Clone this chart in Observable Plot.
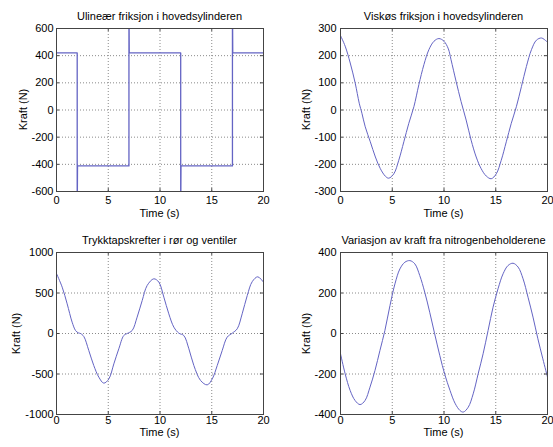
<!DOCTYPE html>
<html>
<head>
<meta charset="utf-8">
<script src="https://cdn.jsdelivr.net/npm/d3@7"></script>
<script src="https://cdn.jsdelivr.net/npm/@observablehq/plot@0.6"></script>
<style>
  html, body { margin: 0; padding: 0; background: #fff; }
  #wrap { position: relative; width: 553px; height: 447px; background: #fff; overflow: hidden;
          font-family: "Liberation Sans", Arial, sans-serif; font-size: 11px; color: #000; }
  .panel { position: absolute; }
  .txt { position: absolute; line-height: 11px; font-size: 11px; white-space: nowrap; text-align: center; }
  .rot { transform: rotate(-90deg); }
</style>
</head>
<body>
<div id="wrap"></div>
<script>
// ---- Data ----
const titles = [
  "Ulineær friksjon i hovedsylinderen",
  "Viskøs friksjon i hovedsylinderen",
  "Trykktapskrefter i rør og ventiler",
  "Variasjon av kraft fra nitrogenbeholderene"
];
const xLabel = "Time (s)";
const yLabel = "Kraft (N)";
const xTicks = [0, 5, 10, 15, 20];

// Panel 1: nonlinear friction (square wave)
const t1 = [0, 2, 2, 2.03, 7, 7, 7.03, 12, 12, 12.03, 17, 17, 17.03, 20];
const f1 = [420, 420, -800, -412, -412, 800, 420, 420, -800, -412, -412, 800, 420, 420];
const yTicks1 = [-600, -400, -200, 0, 200, 400, 600];

// Panel 2: viscous friction
const t2 = [0, 0.45, 0.94, 1.42, 1.81, 2.07, 2.39, 2.88, 3.37, 3.85, 4.34, 4.66, 5.15, 5.63, 6.12, 6.6,
            7.09, 7.57, 8.06, 8.54, 9.03, 9.51, 10.0, 10.42, 10.68, 11.17, 11.65, 12.14, 12.62, 13.11,
            13.59, 14.08, 14.56, 15.05, 15.53, 16.02, 16.5, 16.99, 17.48, 17.96, 18.45, 18.93, 19.42, 19.9, 20];
const f2 = [274, 235, 173, 99, 25, -12, -62, -117, -173, -216, -244, -251, -235, -185, -117, -49,
            12, 93, 167, 222, 253, 263, 253, 225, 185, 105, 31, -37, -111, -173,
            -216, -243, -253, -235, -185, -117, -49, 12, 86, 160, 222, 257, 265, 253, 250];
const yTicks2 = [-300, -200, -100, 0, 100, 200, 300];

// Panel 3: pressure-loss forces
const t3 = [0, 0.55, 1.03, 1.51, 1.84, 2.1, 2.32, 2.64, 3.12, 3.6, 4.09, 4.57, 5.06, 5.54, 6.02, 6.5,
            6.83, 7.31, 7.79, 8.28, 8.76, 9.4, 9.89, 10.37, 10.85, 11.34, 11.82, 12.3, 12.79, 13.27,
            13.92, 14.56, 15.05, 15.53, 16.01, 16.49, 16.98, 17.46, 17.94, 18.43, 18.91, 19.45, 20];
const f3 = [740, 572, 366, 140, 37, 8, 0, -37, -210, -395, -539, -613, -560, -375, -189, -25,
            0, 37, 202, 407, 593, 675, 634, 449, 243, 78, 4, -25, -189, -395,
            -580, -634, -560, -395, -210, -45, 4, 58, 243, 469, 640, 700, 633];
const yTicks3 = [-1000, -500, 0, 500, 1000];

// Panel 4: nitrogen accumulator force variation
const t4 = [0, 0.45, 0.93, 1.41, 1.89, 2.37, 2.85, 3.33, 3.81, 4.29, 4.78, 5.26, 5.74, 6.22, 6.7,
            7.18, 7.66, 8.14, 8.62, 9.1, 9.6, 10.08, 10.58, 11.06, 11.54, 11.86, 12.34, 12.82, 13.3,
            13.78, 14.26, 14.74, 15.22, 15.71, 16.19, 16.67, 17.16, 17.64, 18.12, 18.6, 19.07, 19.55, 20];
const f4 = [-100, -199, -281, -331, -351, -331, -265, -183, -84, 15, 138, 245, 319, 352, 360,
            344, 286, 204, 105, -2, -110, -203, -281, -344, -380, -388, -364, -298, -199,
            -100, 15, 130, 221, 295, 336, 347, 328, 270, 179, 81, -26, -125, -215];
const yTicks4 = [-400, -200, 0, 200, 400];

// ---- Layout ----
const panels = [
  {t: t1, f: f1, yTicks: yTicks1, curve: "linear", left: 0,   top: 0,   w: 276, h: 224, ml: 56, mt: 28, mb: 33, ylx: 23,  tpad: 5, ypad: 3, titleTop: 10.7, timeTop: 207.5},
  {t: t2, f: f2, yTicks: yTicks2, curve: "catmull-rom", left: 276, top: 0,   w: 277, h: 224, ml: 64, mt: 28, mb: 33, ylx: 30,  tpad: 5, ypad: 4, titleTop: 10.7, timeTop: 207.5},
  {t: t3, f: f3, yTicks: yTicks3, curve: "catmull-rom", left: 0,   top: 224, w: 276, h: 223, ml: 56, mt: 28, mb: 33, ylx: 16,  tpad: 2, ypad: 3, titleTop: 10.7, timeTop: 203.2},
  {t: t4, f: f4, yTicks: yTicks4, curve: "catmull-rom", left: 276, top: 224, w: 277, h: 223, ml: 64, mt: 28, mb: 33, ylx: 30,  tpad: 2, ypad: 4, titleTop: 10.7, timeTop: 203.2}
];

const wrap = document.getElementById("wrap");
const lineColor = "#6464c4";
const gridStyle = {stroke: "#8a8a8a", strokeOpacity: 1, strokeDasharray: "1,2", strokeWidth: 1};
const fmt = d => String(d);

panels.forEach((p, i) => {
  const data = p.t.map((t, k) => ({t, f: p.f[k]}));
  const ymin = p.yTicks[0], ymax = p.yTicks[p.yTicks.length - 1];
  const innerX = xTicks.slice(1, -1);
  const innerY = p.yTicks.slice(1, -1);
  const dy = (ymax - ymin) * 0.018, dx = 20 * 0.015;
  const mr = p.w - p.ml - 207;
  const chart = Plot.plot({
    width: p.w, height: p.h,
    marginLeft: p.ml, marginRight: mr, marginTop: p.mt, marginBottom: p.mb,
    style: {fontFamily: "'Liberation Sans', Arial, sans-serif", fontSize: "11px", color: "#000", background: "transparent", overflow: "visible"},
    x: {domain: [0, 20]},
    y: {domain: [ymin, ymax]},
    marks: [
      Plot.gridX(innerX, {...gridStyle}),
      Plot.gridY(innerY, {...gridStyle}),
      Plot.line(data, {x: "t", y: "f", stroke: lineColor, strokeWidth: i === 0 ? 1.3 : 1, curve: p.curve, clip: true}),
      // inward tick marks on all four sides
      Plot.ruleX(xTicks, {x: d => d, y1: ymin, y2: ymin + dy, stroke: "#444"}),
      Plot.ruleX(xTicks, {x: d => d, y1: ymax, y2: ymax - dy, stroke: "#444"}),
      Plot.ruleY(p.yTicks, {y: d => d, x1: 0, x2: dx, stroke: "#444"}),
      Plot.ruleY(p.yTicks, {y: d => d, x1: 20, x2: 20 - dx, stroke: "#444"}),
      Plot.frame({stroke: "#444"}),
      Plot.axisX(xTicks, {tickSize: 0, tickPadding: p.tpad, label: null, fontSize: 11, tickFormat: fmt}),
      Plot.axisY(p.yTicks, {tickSize: 0, tickPadding: p.ypad, label: null, fontSize: 11, tickFormat: fmt})
    ]
  });
  const holder = document.createElement("div");
  holder.className = "panel";
  holder.style.left = p.left + "px";
  holder.style.top = p.top + "px";
  holder.style.width = p.w + "px";
  holder.style.height = p.h + "px";
  holder.appendChild(chart);
  wrap.appendChild(holder);

  const fx = p.left + p.ml, fw = 207;
  const frameH = p.h - p.mt - p.mb;
  const title = document.createElement("div");
  title.className = "txt";
  title.textContent = titles[i];
  title.style.left = (fx - 60) + "px";
  title.style.width = (fw + 120) + "px";
  title.style.top = (p.top + p.titleTop) + "px";
  wrap.appendChild(title);

  const xl = document.createElement("div");
  xl.className = "txt";
  xl.textContent = xLabel;
  xl.style.left = fx + "px";
  xl.style.width = fw + "px";
  xl.style.top = (p.top + p.timeTop) + "px";
  wrap.appendChild(xl);

  const yl = document.createElement("div");
  yl.className = "txt rot";
  yl.textContent = yLabel;
  yl.style.left = (p.left + p.ylx - 50) + "px";
  yl.style.width = "100px";
  yl.style.top = (p.top + p.mt + frameH / 2 - 5.5) + "px";
  wrap.appendChild(yl);
});
</script>
</body>
</html>
